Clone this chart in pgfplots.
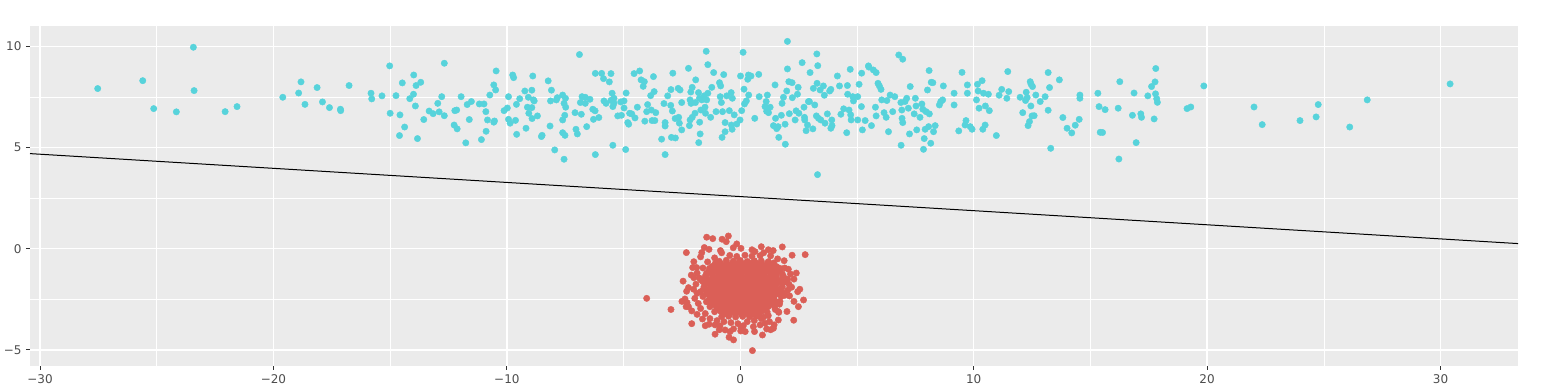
\documentclass[border=0pt]{standalone}
\usepackage{pgfplots}
\pgfplotsset{compat=1.18}
\usepackage{fontspec}
\setmainfont{DejaVu Sans}
\definecolor{panelbg}{HTML}{EBEBEB}
\definecolor{tickgray}{HTML}{4D4D4D}
\definecolor{tickmark}{HTML}{333333}
\definecolor{ptred}{HTML}{DB5F57}
\definecolor{ptcyan}{HTML}{57D3DB}

\pgfplotstableread{
x y
-27.53 7.91
-25.60 8.30
-25.13 6.92
-24.16 6.76
-23.43 9.95
-23.40 7.81
-22.07 6.77
-21.56 7.02
-19.60 7.48
-18.92 7.69
-18.82 8.24
-18.65 7.13
-18.13 7.96
-17.90 7.25
-17.60 6.97
-17.13 6.89
-17.12 6.82
-16.76 8.06
-15.82 7.68
-15.79 7.40
-15.35 7.55
-15.02 9.03
-15.00 6.69
-14.75 7.56
-14.58 6.61
-14.60 5.59
-14.48 8.19
-14.38 6.01
-14.16 7.41
-13.99 8.58
-14.00 7.63
-13.92 7.05
-13.89 8.06
-13.69 8.22
-13.83 5.44
-13.56 6.38
-13.33 6.80
-13.16 6.67
-12.96 7.18
-12.90 6.76
-12.79 7.51
-12.68 9.16
-12.68 6.57
-12.26 6.11
-12.13 5.92
-12.23 6.82
-12.15 6.85
-11.96 7.51
-11.76 5.23
-11.70 7.12
-11.52 7.27
-11.61 6.38
-11.18 7.15
-10.98 7.15
-11.09 5.39
-10.90 6.77
-10.83 6.36
-10.89 5.80
-10.73 7.59
-10.56 8.09
-10.48 7.84
-10.46 8.78
-10.56 6.25
-10.53 6.31
-10.12 6.82
-9.98 6.95
-9.93 7.51
-9.93 6.39
-9.86 6.20
-9.75 8.58
-9.71 8.45
-9.63 6.34
-9.59 7.13
-9.58 5.65
-9.45 7.41
-9.23 7.79
-9.18 5.95
-9.08 7.48
-9.12 6.99
-9.06 6.69
-8.93 7.83
-8.89 8.53
-8.93 6.97
-8.92 6.43
-8.86 7.35
-8.83 7.30
-8.69 6.56
-8.52 5.54
-8.49 5.60
-8.23 8.29
-8.09 7.83
-8.13 7.30
-8.15 6.06
-7.95 4.88
-7.88 7.35
-7.84 7.46
-7.61 7.59
-7.55 7.18
-7.49 7.43
-7.48 6.99
-7.52 6.59
-7.61 6.36
-7.61 5.73
-7.51 5.60
-7.55 4.42
-7.08 6.72
-7.04 5.90
-6.98 5.67
-6.89 9.59
-6.81 6.64
-6.85 7.22
-6.78 7.51
-6.64 7.48
-6.64 7.18
-6.58 6.03
-6.44 7.38
-6.32 6.89
-6.22 6.81
-6.29 6.39
-6.21 4.65
-6.21 8.66
-6.06 6.48
-5.94 8.66
-5.86 8.40
-5.61 8.24
-5.54 8.65
-5.49 7.68
-5.84 7.30
-5.75 7.18
-5.54 7.33
-5.41 7.43
-5.46 7.02
-5.41 7.18
-5.46 5.11
-5.25 6.56
-5.09 6.59
-5.12 7.25
-4.98 7.30
-4.98 6.95
-4.89 7.69
-4.91 4.90
-4.82 6.23
-4.78 6.15
-4.74 6.69
-4.65 6.66
-4.55 8.65
-4.51 6.46
-4.41 6.99
-4.31 8.78
-4.25 8.34
-4.16 8.02
-4.11 8.25
-4.09 6.30
-4.01 6.77
-3.97 7.12
-3.84 7.56
-3.81 6.85
-3.78 6.33
-3.72 8.50
-3.69 7.76
-3.66 6.33
-3.62 6.72
-3.37 5.41
-3.27 7.17
-3.22 6.23
-3.22 6.06
-3.22 4.65
-3.11 7.55
-2.97 7.86
-2.89 8.67
-2.98 7.08
-2.91 6.80
-2.79 6.43
-2.95 5.50
-2.78 5.47
-2.66 7.92
-2.64 6.49
-2.61 6.20
-2.58 7.84
-2.51 5.87
-2.51 7.22
-2.22 8.91
-2.12 7.74
-2.06 7.97
-2.15 7.35
-2.11 7.18
-2.15 6.36
-2.18 6.08
-2.06 6.49
-1.94 6.69
-1.92 7.22
-1.91 8.34
-1.79 7.71
-1.75 7.43
-1.72 5.67
-1.78 5.24
-1.74 6.25
-1.69 6.85
-1.65 7.35
-1.55 7.55
-1.51 6.99
-1.49 6.69
-1.46 9.75
-1.44 7.35
-1.39 7.68
-1.39 9.09
-1.27 6.49
-1.22 7.97
-1.14 8.70
-1.04 6.77
-0.89 8.20
-0.84 8.04
-0.81 7.22
-0.86 7.51
-0.76 6.77
-0.71 8.60
-0.78 5.50
-0.65 6.23
-0.65 5.78
-0.58 7.55
-0.47 6.82
-0.39 7.71
-0.34 7.43
-0.35 5.90
-0.38 6.11
-0.26 6.61
-0.15 6.16
-0.01 6.36
0.01 8.53
0.06 6.82
0.12 9.70
0.16 7.88
0.18 7.15
0.26 7.30
0.32 8.37
0.36 7.59
0.35 8.58
0.46 8.53
0.62 6.44
0.79 8.61
0.81 7.51
1.11 7.27
1.16 7.59
1.06 7.02
1.13 6.79
1.28 6.99
1.21 6.72
1.49 8.09
1.51 6.44
1.42 6.08
1.56 5.93
1.62 6.03
1.65 5.50
1.76 6.59
1.79 7.18
1.85 7.48
1.93 5.16
1.92 6.15
2.02 10.24
2.02 8.88
1.99 7.79
2.08 8.25
2.22 8.20
2.10 6.67
2.23 7.46
2.35 6.36
2.39 6.81
2.48 7.97
2.45 7.63
2.51 6.69
2.65 9.19
2.73 6.99
2.75 6.49
2.76 6.36
2.88 6.11
2.82 5.83
2.99 8.70
2.92 7.27
2.96 7.27
3.11 5.92
3.13 7.92
3.19 7.10
3.28 9.62
3.32 9.04
3.29 8.17
3.26 6.56
3.31 3.66
3.35 6.44
3.42 7.84
3.45 6.36
3.56 8.04
3.60 7.58
3.63 6.20
3.73 6.66
3.83 7.79
3.88 7.87
3.88 5.95
3.92 6.36
3.93 6.08
4.16 8.53
4.25 8.04
4.31 6.64
4.43 6.91
4.56 5.73
4.59 8.06
4.60 7.63
4.66 6.85
4.71 8.86
4.73 6.61
4.75 6.36
4.82 7.51
4.85 7.30
5.03 7.51
5.03 6.36
5.09 8.12
5.20 8.67
5.19 7.02
5.23 5.87
5.35 6.33
5.49 9.03
5.51 8.97
5.62 6.08
5.70 8.83
5.82 8.70
5.79 6.99
5.82 6.56
5.90 8.17
5.96 8.04
6.03 7.87
6.06 7.35
6.28 7.32
6.16 6.72
6.25 6.49
6.35 5.78
6.42 7.59
6.53 6.77
6.62 7.51
6.79 9.57
6.96 9.36
6.89 5.11
6.88 7.22
6.92 6.85
6.93 6.44
6.96 6.23
7.06 7.27
7.13 7.43
7.20 6.94
7.25 5.67
7.28 8.01
7.45 6.66
7.50 7.43
7.53 7.05
7.56 5.87
7.70 6.49
7.78 7.15
7.82 6.89
7.88 5.44
7.85 4.91
7.92 5.90
7.96 6.77
8.02 7.84
8.09 8.80
8.10 6.66
8.07 6.03
8.18 8.22
8.16 5.21
8.25 8.20
8.35 6.08
8.28 5.78
8.53 7.10
8.59 7.27
8.67 7.35
8.70 8.04
9.16 7.68
9.16 7.10
9.36 5.82
9.50 8.71
9.63 6.11
9.67 6.33
9.73 8.09
9.73 7.68
9.93 5.90
9.85 6.03
10.12 7.35
10.16 8.12
10.19 7.79
10.23 6.94
10.36 8.30
10.42 7.68
10.39 5.90
10.49 6.11
10.50 7.05
10.63 7.63
10.67 6.82
10.97 5.59
11.09 7.58
11.20 7.87
11.42 7.43
11.46 8.75
11.50 7.76
11.99 7.48
12.10 6.72
12.22 7.32
12.25 7.73
12.29 7.46
12.42 8.25
12.46 8.12
12.52 8.01
12.45 7.05
12.50 6.56
12.59 6.57
12.39 6.28
12.33 6.08
12.66 7.59
12.85 7.27
13.06 7.51
13.19 8.70
13.25 7.96
13.19 6.84
13.30 4.96
13.67 8.34
13.82 6.48
14.00 5.95
14.20 5.72
14.35 6.10
14.52 6.39
14.55 7.59
14.55 7.43
15.32 7.68
15.37 7.02
15.63 6.87
15.42 5.75
15.52 5.74
16.19 6.94
16.26 8.25
16.22 4.43
16.80 6.59
16.87 7.69
16.96 5.24
17.16 6.66
17.19 6.49
17.46 7.55
17.62 8.01
17.77 8.24
17.80 8.90
17.79 7.65
17.84 7.41
17.87 7.23
17.73 6.41
19.14 6.92
19.30 7.00
19.86 8.04
22.01 7.00
22.36 6.13
23.98 6.33
24.67 6.51
24.76 7.12
26.11 6.01
26.86 7.35
30.41 8.14
}\cyantable

\pgfplotstableread{
x y
-4.01 -2.45
-2.97 -3.00
-1.44 0.57
-1.18 0.50
-0.78 0.47
-0.51 0.63
-0.15 0.24
0.03 0.02
-2.31 -0.19
-1.65 -0.19
-1.54 0.06
-1.34 -0.03
-0.85 -0.09
0.63 -0.14
1.41 -0.09
1.80 0.09
2.22 -0.32
2.78 -0.29
1.88 -0.59
-1.99 -0.64
-1.87 -0.93
-2.04 -0.93
2.06 -1.01
-1.99 -1.43
-1.68 -1.54
-2.22 -1.92
2.03 -1.51
2.09 -1.76
2.03 -2.05
2.46 -2.12
2.11 -2.33
-1.85 -2.20
-2.37 -2.48
-2.28 -2.66
-2.22 -2.86
-2.32 -2.86
2.71 -2.53
2.49 -2.86
-2.08 -3.07
-1.85 -3.24
-1.62 -3.47
2.29 -3.53
1.63 -3.52
-2.08 -3.70
-1.08 -3.76
-0.87 -3.81
-1.08 -4.22
-0.44 -4.09
-0.29 -4.50
-0.48 -4.37
0.21 -4.09
0.61 -4.09
0.95 -4.26
1.13 -3.96
1.42 -3.93
0.52 -5.03
0.03 -3.93
-0.65 -4.01
1.06 -3.68
1.63 -3.10
1.68 -2.74
1.78 -2.12
-1.34 -3.73
1.65 -3.14
1.45 -3.76
1.25 -3.60
0.85 -3.76
0.56 -3.85
0.13 -3.80
0.02 -4.06
-0.29 -3.96
-1.85 -1.20
-1.90 -1.75
-2.00 -2.00
-1.95 -2.45
-1.80 -2.70
-1.70 -2.95
-1.50 -3.20
-1.30 -3.45
-1.00 -3.55
-0.70 -3.60
-0.40 -3.65
-0.10 -3.70
0.30 -3.60
0.60 -3.55
0.90 -3.45
1.20 -3.30
1.50 -3.00
1.70 -2.60
1.90 -2.30
2.20 -1.90
2.30 -1.50
2.15 -1.25
1.90 -0.95
1.60 -0.50
1.30 -0.35
1.00 -0.20
0.50 -0.05
-0.30 0.05
-0.80 -0.20
-1.10 -0.45
-1.40 -0.65
-1.60 -0.95
-1.75 -1.45
-2.10 -1.30
-1.70 -0.40
-0.60 0.35
0.90 0.10
1.20 -0.05
2.40 -1.20
2.55 -2.00
2.30 -2.60
2.00 -3.10
1.30 -4.00
-0.90 -4.00
-1.50 -3.80
-2.30 -2.10
-2.45 -1.60
-2.50 -2.60
-0.45 -0.33
-0.15 -0.38
0.20 -0.32
0.50 -0.37
0.85 -0.34
-0.90 -0.62
-0.60 -0.57
-0.30 -0.61
0.00 -0.58
0.30 -0.63
0.60 -0.59
0.90 -0.60
1.20 -0.64
-1.20 -0.87
-0.95 -0.83
-0.70 -0.88
-0.45 -0.84
-0.20 -0.86
0.05 -0.82
0.30 -0.88
0.55 -0.85
0.80 -0.83
1.05 -0.87
1.30 -0.84
1.55 -0.88
-1.35 -1.12
-1.10 -1.08
-0.85 -1.11
-0.60 -1.07
-0.35 -1.12
-0.10 -1.09
0.15 -1.10
0.40 -1.13
0.65 -1.08
0.90 -1.11
1.15 -1.07
1.40 -1.12
1.70 -1.09
-1.50 -1.36
-1.20 -1.33
-0.95 -1.37
-0.70 -1.34
-0.45 -1.38
-0.20 -1.33
0.05 -1.36
0.30 -1.34
0.55 -1.37
0.80 -1.33
1.05 -1.36
1.30 -1.38
1.55 -1.34
1.85 -1.37
-1.60 -1.62
-1.35 -1.58
-1.10 -1.61
-0.85 -1.63
-0.60 -1.59
-0.35 -1.62
-0.10 -1.58
0.15 -1.61
0.40 -1.63
0.65 -1.59
0.90 -1.61
1.15 -1.58
1.40 -1.62
1.65 -1.60
1.95 -1.63
-1.55 -1.87
-1.25 -1.84
-1.00 -1.86
-0.75 -1.83
-0.50 -1.87
-0.25 -1.85
0.00 -1.88
0.25 -1.84
0.50 -1.86
0.75 -1.83
1.00 -1.87
1.25 -1.85
1.50 -1.84
1.80 -1.88
-1.70 -2.12
-1.40 -2.08
-1.15 -2.11
-0.90 -2.09
-0.65 -2.13
-0.40 -2.10
-0.15 -2.08
0.10 -2.12
0.35 -2.09
0.60 -2.11
0.85 -2.13
1.10 -2.08
1.35 -2.10
1.60 -2.12
-1.60 -2.36
-1.30 -2.33
-1.05 -2.37
-0.80 -2.34
-0.55 -2.36
-0.30 -2.38
-0.05 -2.33
0.20 -2.35
0.45 -2.37
0.70 -2.34
0.95 -2.36
1.20 -2.33
1.45 -2.37
1.75 -2.35
-1.45 -2.62
-1.20 -2.58
-0.95 -2.61
-0.70 -2.63
-0.45 -2.59
-0.20 -2.61
0.05 -2.58
0.30 -2.62
0.55 -2.60
0.80 -2.63
1.05 -2.59
1.30 -2.61
1.55 -2.62
-1.30 -2.86
-1.05 -2.83
-0.80 -2.87
-0.55 -2.84
-0.30 -2.86
-0.05 -2.88
0.20 -2.83
0.45 -2.86
0.70 -2.84
0.95 -2.87
1.20 -2.85
1.45 -2.83
-1.10 -3.11
-0.85 -3.08
-0.60 -3.12
-0.35 -3.09
-0.10 -3.11
0.15 -3.08
0.40 -3.12
0.65 -3.10
0.90 -3.09
1.15 -3.12
-0.80 -3.36
-0.50 -3.33
-0.20 -3.37
0.10 -3.34
0.40 -3.36
0.70 -3.33
1.00 -3.37
-1.07 -0.72
-0.82 -0.74
-0.57 -0.71
-0.32 -0.73
-0.07 -0.70
0.18 -0.74
0.43 -0.72
0.68 -0.71
0.93 -0.74
1.18 -0.72
1.43 -0.70
-1.32 -0.97
-1.07 -0.99
-0.82 -0.96
-0.57 -0.98
-0.32 -0.95
-0.07 -0.99
0.18 -0.97
0.43 -0.96
0.68 -0.99
0.93 -0.97
1.18 -0.95
1.43 -0.98
1.68 -0.96
-1.45 -1.22
-1.20 -1.24
-0.95 -1.21
-0.70 -1.23
-0.45 -1.20
-0.20 -1.24
0.05 -1.22
0.30 -1.21
0.55 -1.24
0.80 -1.22
1.05 -1.20
1.30 -1.23
1.55 -1.21
1.80 -1.24
-1.45 -1.47
-1.20 -1.49
-0.95 -1.46
-0.70 -1.48
-0.45 -1.45
-0.20 -1.49
0.05 -1.47
0.30 -1.46
0.55 -1.49
0.80 -1.47
1.05 -1.45
1.30 -1.48
1.55 -1.46
1.80 -1.49
-1.45 -1.72
-1.20 -1.74
-0.95 -1.71
-0.70 -1.73
-0.45 -1.70
-0.20 -1.74
0.05 -1.72
0.30 -1.71
0.55 -1.74
0.80 -1.72
1.05 -1.70
1.30 -1.73
1.55 -1.71
1.80 -1.74
-1.57 -1.97
-1.32 -1.99
-1.07 -1.96
-0.82 -1.98
-0.57 -1.95
-0.32 -1.99
-0.07 -1.97
0.18 -1.96
0.43 -1.99
0.68 -1.97
0.93 -1.95
1.18 -1.98
1.43 -1.96
1.68 -1.99
-1.45 -2.22
-1.20 -2.24
-0.95 -2.21
-0.70 -2.23
-0.45 -2.20
-0.20 -2.24
0.05 -2.22
0.30 -2.21
0.55 -2.24
0.80 -2.22
1.05 -2.20
1.30 -2.23
1.55 -2.21
1.68 -2.24
-1.32 -2.47
-1.07 -2.49
-0.82 -2.46
-0.57 -2.48
-0.32 -2.45
-0.07 -2.49
0.18 -2.47
0.43 -2.46
0.68 -2.49
0.93 -2.47
1.18 -2.45
1.43 -2.48
-1.20 -2.72
-0.95 -2.74
-0.70 -2.71
-0.45 -2.73
-0.20 -2.70
0.05 -2.74
0.30 -2.72
0.55 -2.71
0.80 -2.74
1.05 -2.72
1.30 -2.70
-0.95 -2.97
-0.70 -2.99
-0.45 -2.96
-0.20 -2.98
0.05 -2.95
0.30 -2.99
0.55 -2.97
0.80 -2.96
1.05 -2.99
-0.70 -3.22
-0.45 -3.24
-0.20 -3.21
0.05 -3.23
0.30 -3.20
0.55 -3.24
0.80 -3.22
}\redtable

\begin{document}
\begin{tikzpicture}
\path[use as bounding box] (0,0) rectangle (1543pt,390pt);
\begin{axis}[
    at={(30pt,24pt)}, anchor=south west,
    scale only axis,
    width=1488pt, height=340pt,
    xmin=-30.43, xmax=33.32,
    ymin=-5.79, ymax=11.0,
    axis background/.style={fill=panelbg},
    axis line style={draw=none},
    xtick={-30,-20,-10,0,10,20,30},
    xticklabels={−30,−20,−10,0,10,20,30},
    ytick={-5,0,5,10},
    yticklabels={−5,0,5,10},
    minor xtick={-25,-15,-5,5,15,25},
    minor ytick={-2.5,2.5,7.5},
    grid=both,
    major grid style={white, line width=1.3pt},
    minor grid style={white, line width=0.6pt},
    tick pos=left,
    tick align=outside,
    major tick length=4pt,
    minor tick length=0pt,
    every tick/.style={tickmark, line width=1pt},
    ticklabel style={font=\fontsize{12}{14}\selectfont, text=tickgray},
    xticklabel style={yshift=-1pt},
    yticklabel style={xshift=-1pt},
    clip=true,
]
\addplot[only marks, mark=*, mark size=3.2pt, color=ptcyan, mark options={ptcyan}] table[x=x, y=y] {\cyantable};
\addplot[only marks, mark=*, mark size=3.2pt, color=ptred, mark options={ptred}] table[x=x, y=y] {\redtable};
\addplot[black, line width=1pt, mark=none] coordinates {(-30.43,4.698) (33.32,0.255)};
\end{axis}
\end{tikzpicture}
\end{document}
